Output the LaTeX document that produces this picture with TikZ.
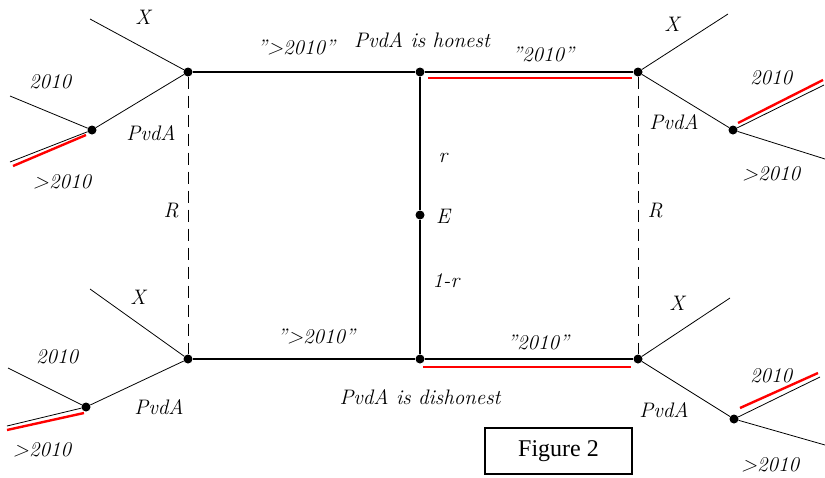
\documentclass[tikz,border=0pt]{standalone}
\usepackage{fontspec}
\newfontfamily\figfont{Liberation Serif}
\begin{document}
\begin{tikzpicture}[x=1pt,y=-1pt,
  dot/.style={circle,fill=black,inner sep=0pt,minimum size=9pt},
  thin line/.style={line width=0.8pt},
  main line/.style={line width=1.3pt},
  redline/.style={draw=red,line width=2.4pt},
  lbl/.style={font=\fontsize{21}{21}\selectfont\itshape,inner sep=0pt},
  dash line/.style={line width=1pt,dash pattern=on 12pt off 7pt}]
\useasboundingbox (0,0) rectangle (825,477);
% main nodes
\node[dot] (TL) at (188,72) {};
\node[dot] (TM) at (420,72) {};
\node[dot] (TR) at (638,72) {};
\node[dot] (BL) at (188,359) {};
\node[dot] (BM) at (420,359) {};
\node[dot] (BR) at (638,359) {};
\node[dot] (E) at (420,215) {};
% secondary nodes
\node[dot] (TLn) at (92,130) {};
\node[dot] (BLn) at (86,407) {};
\node[dot] (TRn) at (733,130) {};
\node[dot] (BRn) at (734,419) {};
% free ends
\coordinate (TLx) at (90,19);
\coordinate (TLa) at (10,96);
\coordinate (TLb) at (10,162);
\coordinate (BLx) at (90,289);
\coordinate (BLa) at (8,368);
\coordinate (BLb) at (7,426);
\coordinate (TRx) at (728,14);
\coordinate (TRa) at (824,85);
\coordinate (TRb) at (825,159);
\coordinate (BRx) at (730,298);
\coordinate (BRa) at (820,377);
\coordinate (BRb) at (825,445);
% red line ends
\coordinate (r1a) at (13,166); \coordinate (r1b) at (86,135);
\coordinate (r2a) at (7,430); \coordinate (r2b) at (84,413);
\coordinate (r3a) at (738,123); \coordinate (r3b) at (823,80);
\coordinate (r4a) at (740,408); \coordinate (r4b) at (818,373);
\coordinate (r5a) at (428,78); \coordinate (r5b) at (632,78);
\coordinate (r6a) at (423,367); \coordinate (r6b) at (631,367);
% main lines
\draw[main line] (TL) -- (TM) -- (TR);
\draw[main line] (BL) -- (BM) -- (BR);
\draw[main line] (TM) -- (E) -- (BM);
\draw[dash line] (TL) -- (BL);
\draw[dash line] (TR) -- (BR);
% branches
\draw[thin line] (TLx) -- (TL) -- (TLn);
\draw[thin line] (TLa) -- (TLn) -- (TLb);
\draw[thin line] (BLx) -- (BL) -- (BLn);
\draw[thin line] (BLa) -- (BLn) -- (BLb);
\draw[thin line] (TRx) -- (TR) -- (TRn);
\draw[thin line] (TRa) -- (TRn) -- (TRb);
\draw[thin line] (BRx) -- (BR) -- (BRn);
\draw[thin line] (BRa) -- (BRn) -- (BRb);
% red lines
\draw[redline] (r1a) -- (r1b);
\draw[redline] (r2a) -- (r2b);
\draw[redline] (r3a) -- (r3b);
\draw[redline] (r4a) -- (r4b);
\draw[redline] (r5a) -- (r5b);
\draw[redline] (r6a) -- (r6b);
% labels
\node[lbl] (l1) at (143,17) {X};
\node[lbl] (l2) at (50,82) {2010};
\node[lbl] (l3) at (151,133) {PvdA};
\node[lbl] (l4) at (62,182) {>2010};
\node[lbl] (l5) at (171,211) {R};
\node[lbl] (l6) at (138,297) {X};
\node[lbl] (l7) at (57,357) {2010};
\node[lbl] (l8) at (159,407) {PvdA};
\node[lbl] (l9) at (42,450) {>2010};
\node[lbl] (l10) at (672,24) {X};
\node[lbl] (l11) at (771,78) {2010};
\node[lbl] (l12) at (674,122) {PvdA};
\node[lbl] (l13) at (771,174) {>2010};
\node[lbl] (l14) at (655,211) {R};
\node[lbl] (l15) at (677,303) {X};
\node[lbl] (l16) at (771,376) {2010};
\node[lbl] (l17) at (664,410) {PvdA};
\node[lbl] (l18) at (770,465) {>2010};
\node[lbl] (l19) at (296,48) {"{}>2010"};
\node[lbl] (l20) at (316,337) {"{}>2010"};
\node[lbl] (l21) at (422,40) {PvdA is honest};
\node[lbl] (l22) at (543,54) {"2010"};
\node[lbl] (l23) at (420,397) {PvdA is dishonest};
\node[lbl] (l24) at (538,342) {"2010"};
\node[lbl] (l25) at (443,158) {r};
\node[lbl] (l26) at (443,216) {E};
\node[lbl] (l27) at (446,281) {1-r};
% figure box
\node[draw,line width=1.2pt,minimum width=147pt,minimum height=46pt,inner sep=0pt,
  font=\figfont\fontsize{24}{24}\selectfont] (fig) at (558.5,451) {Figure 2};
\end{tikzpicture}
\end{document}
